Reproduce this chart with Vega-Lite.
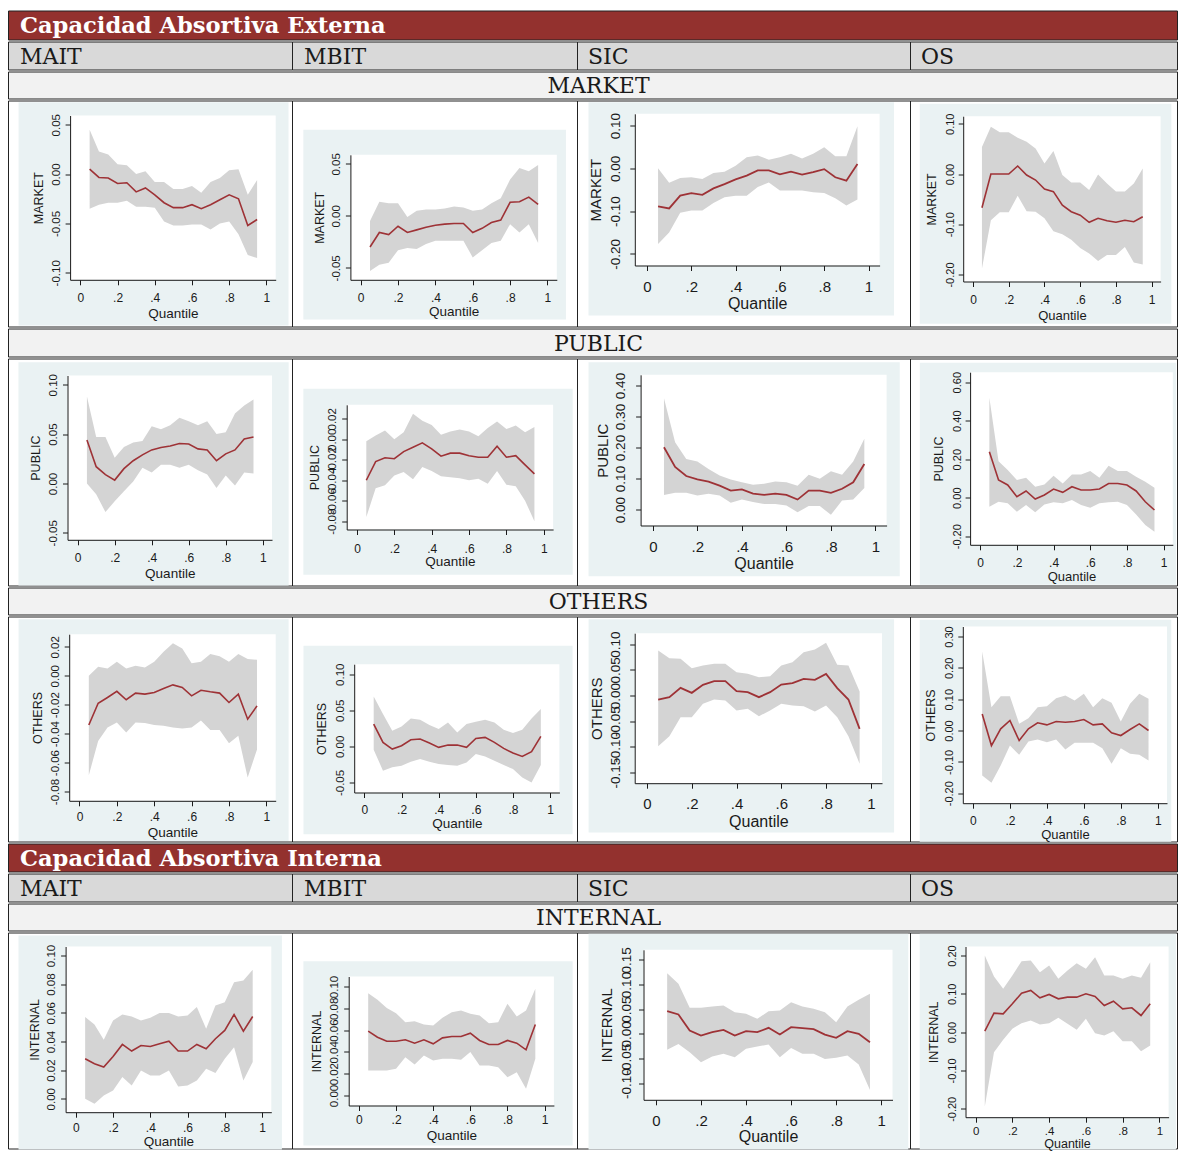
{
"$schema": "https://vega.github.io/schema/vega-lite/v6.json",
"background": "#ffffff",
"padding": {"left": 7, "top": 9.5, "right": 0, "bottom": 0},
"spacing": 0,
"config": {
  "axis": {"domainColor": "#1a1a1a", "domainWidth": 1, "tickColor": "#1a1a1a", "tickWidth": 1, "tickSize": 5, "labelColor": "#1a1a1a", "titleColor": "#1a1a1a", "labelFont": "Liberation Sans", "titleFont": "Liberation Sans", "titleFontWeight": "normal", "grid": false, "labelOverlap": false, "labelFlush": false, "labelBound": false},
  "axisX": {"titleBaseline": "top"},
  "axisY": {"labelAngle": -90, "labelAlign": "center", "labelBaseline": "bottom", "titleAngle": 270, "titleBaseline": "bottom"}
},
"datasets": {
"d11": [{"q":0.05,"b":0.005,"lo":-0.035,"hi":0.045},{"q":0.10,"b":-0.0034,"lo":-0.031,"hi":0.023},{"q":0.15,"b":-0.004,"lo":-0.029,"hi":0.020},{"q":0.20,"b":-0.0095,"lo":-0.029,"hi":0.010},{"q":0.25,"b":-0.0088,"lo":-0.027,"hi":0.009},{"q":0.30,"b":-0.018,"lo":-0.033,"hi":0.0},{"q":0.35,"b":-0.014,"lo":-0.033,"hi":0.003},{"q":0.40,"b":-0.021,"lo":-0.034,"hi":-0.008},{"q":0.45,"b":-0.029,"lo":-0.048,"hi":-0.008},{"q":0.50,"b":-0.034,"lo":-0.052,"hi":-0.015},{"q":0.55,"b":-0.034,"lo":-0.052,"hi":-0.015},{"q":0.60,"b":-0.031,"lo":-0.051,"hi":-0.012},{"q":0.65,"b":-0.035,"lo":-0.051,"hi":-0.019},{"q":0.70,"b":-0.031,"lo":-0.056,"hi":-0.008},{"q":0.75,"b":-0.026,"lo":-0.050,"hi":-0.004},{"q":0.80,"b":-0.021,"lo":-0.048,"hi":0.004},{"q":0.85,"b":-0.025,"lo":-0.061,"hi":0.005},{"q":0.90,"b":-0.052,"lo":-0.082,"hi":-0.021},{"q":0.95,"b":-0.046,"lo":-0.085,"hi":-0.006}],
"d12": [{"q":0.05,"b":-0.030,"lo":-0.053,"hi":-0.005},{"q":0.10,"b":-0.016,"lo":-0.047,"hi":0.0135},{"q":0.15,"b":-0.018,"lo":-0.045,"hi":0.012},{"q":0.20,"b":-0.010,"lo":-0.033,"hi":0.012},{"q":0.25,"b":-0.016,"lo":-0.031,"hi":-0.001},{"q":0.30,"b":-0.0135,"lo":-0.032,"hi":0.005},{"q":0.35,"b":-0.011,"lo":-0.027,"hi":0.006},{"q":0.40,"b":-0.009,"lo":-0.024,"hi":0.006},{"q":0.45,"b":-0.008,"lo":-0.024,"hi":0.007},{"q":0.50,"b":-0.0074,"lo":-0.024,"hi":0.009},{"q":0.55,"b":-0.0074,"lo":-0.024,"hi":0.008},{"q":0.60,"b":-0.016,"lo":-0.040,"hi":0.005},{"q":0.65,"b":-0.012,"lo":-0.033,"hi":0.006},{"q":0.70,"b":-0.0065,"lo":-0.026,"hi":0.012},{"q":0.75,"b":-0.004,"lo":-0.024,"hi":0.017},{"q":0.80,"b":0.013,"lo":-0.008,"hi":0.035},{"q":0.85,"b":0.0135,"lo":-0.016,"hi":0.046},{"q":0.90,"b":0.018,"lo":-0.008,"hi":0.043},{"q":0.95,"b":0.011,"lo":-0.026,"hi":0.049}],
"d13": [{"q":0.05,"b":-0.089,"lo":-0.177,"hi":0.0},{"q":0.10,"b":-0.094,"lo":-0.150,"hi":-0.034},{"q":0.15,"b":-0.064,"lo":-0.104,"hi":-0.023},{"q":0.20,"b":-0.058,"lo":-0.099,"hi":-0.021},{"q":0.25,"b":-0.062,"lo":-0.099,"hi":-0.025},{"q":0.30,"b":-0.047,"lo":-0.081,"hi":-0.011},{"q":0.35,"b":-0.037,"lo":-0.068,"hi":-0.008},{"q":0.40,"b":-0.026,"lo":-0.064,"hi":0.006},{"q":0.45,"b":-0.017,"lo":-0.064,"hi":0.026},{"q":0.50,"b":-0.005,"lo":-0.044,"hi":0.030},{"q":0.55,"b":-0.005,"lo":-0.033,"hi":0.020},{"q":0.60,"b":-0.014,"lo":-0.052,"hi":0.026},{"q":0.65,"b":-0.008,"lo":-0.052,"hi":0.034},{"q":0.70,"b":-0.015,"lo":-0.052,"hi":0.023},{"q":0.75,"b":-0.009,"lo":-0.056,"hi":0.034},{"q":0.80,"b":-0.002,"lo":-0.058,"hi":0.049},{"q":0.85,"b":-0.021,"lo":-0.070,"hi":0.028},{"q":0.90,"b":-0.029,"lo":-0.087,"hi":0.028},{"q":0.95,"b":0.010,"lo":-0.073,"hi":0.098}],
"d14": [{"q":0.05,"b":-0.067,"lo":-0.188,"hi":0.054},{"q":0.10,"b":0.0,"lo":-0.092,"hi":0.094},{"q":0.15,"b":0.0,"lo":-0.076,"hi":0.083},{"q":0.20,"b":0.0,"lo":-0.076,"hi":0.083},{"q":0.25,"b":0.016,"lo":-0.043,"hi":0.072},{"q":0.30,"b":-0.002,"lo":-0.074,"hi":0.064},{"q":0.35,"b":-0.012,"lo":-0.075,"hi":0.051},{"q":0.40,"b":-0.030,"lo":-0.088,"hi":0.021},{"q":0.45,"b":-0.035,"lo":-0.114,"hi":0.046},{"q":0.50,"b":-0.062,"lo":-0.120,"hi":-0.002},{"q":0.55,"b":-0.075,"lo":-0.131,"hi":-0.017},{"q":0.60,"b":-0.082,"lo":-0.147,"hi":-0.017},{"q":0.65,"b":-0.096,"lo":-0.158,"hi":-0.032},{"q":0.70,"b":-0.088,"lo":-0.173,"hi":-0.001},{"q":0.75,"b":-0.093,"lo":-0.161,"hi":-0.019},{"q":0.80,"b":-0.096,"lo":-0.161,"hi":-0.035},{"q":0.85,"b":-0.092,"lo":-0.145,"hi":-0.035},{"q":0.90,"b":-0.095,"lo":-0.176,"hi":-0.019},{"q":0.95,"b":-0.085,"lo":-0.180,"hi":0.011}],
"d21": [{"q":0.05,"b":0.044,"lo":0.0,"hi":0.088},{"q":0.10,"b":0.017,"lo":-0.011,"hi":0.047},{"q":0.15,"b":0.009,"lo":-0.029,"hi":0.047},{"q":0.20,"b":0.0034,"lo":-0.018,"hi":0.026},{"q":0.25,"b":0.015,"lo":-0.008,"hi":0.037},{"q":0.30,"b":0.023,"lo":0.002,"hi":0.0415},{"q":0.35,"b":0.029,"lo":0.016,"hi":0.043},{"q":0.40,"b":0.034,"lo":0.011,"hi":0.058},{"q":0.45,"b":0.0365,"lo":0.019,"hi":0.055},{"q":0.50,"b":0.038,"lo":0.019,"hi":0.059},{"q":0.55,"b":0.0405,"lo":0.016,"hi":0.0666},{"q":0.60,"b":0.040,"lo":0.019,"hi":0.063},{"q":0.65,"b":0.035,"lo":0.0135,"hi":0.059},{"q":0.70,"b":0.034,"lo":0.009,"hi":0.063},{"q":0.75,"b":0.023,"lo":-0.0045,"hi":0.050},{"q":0.80,"b":0.030,"lo":0.008,"hi":0.052},{"q":0.85,"b":0.034,"lo":-0.002,"hi":0.071},{"q":0.90,"b":0.045,"lo":0.011,"hi":0.079},{"q":0.95,"b":0.047,"lo":0.010,"hi":0.085}],
"d22": [{"q":0.05,"b":-0.040,"lo":-0.076,"hi":-0.002},{"q":0.10,"b":-0.0217,"lo":-0.0477,"hi":0.0037},{"q":0.15,"b":-0.018,"lo":-0.045,"hi":0.0086},{"q":0.20,"b":-0.019,"lo":-0.0354,"hi":0.0},{"q":0.25,"b":-0.012,"lo":-0.032,"hi":0.007},{"q":0.30,"b":-0.0077,"lo":-0.039,"hi":0.025},{"q":0.35,"b":-0.0035,"lo":-0.027,"hi":0.018},{"q":0.40,"b":-0.0093,"lo":-0.031,"hi":0.014},{"q":0.45,"b":-0.0165,"lo":-0.036,"hi":0.0044},{"q":0.50,"b":-0.0135,"lo":-0.037,"hi":0.0076},{"q":0.55,"b":-0.0135,"lo":-0.038,"hi":0.0096},{"q":0.60,"b":-0.016,"lo":-0.040,"hi":0.0076},{"q":0.65,"b":-0.0175,"lo":-0.0386,"hi":0.003},{"q":0.70,"b":-0.0175,"lo":-0.0435,"hi":0.011},{"q":0.75,"b":-0.0067,"lo":-0.031,"hi":0.0174},{"q":0.80,"b":-0.0175,"lo":-0.0445,"hi":0.010},{"q":0.85,"b":-0.016,"lo":-0.0458,"hi":0.0135},{"q":0.90,"b":-0.025,"lo":-0.060,"hi":0.007},{"q":0.95,"b":-0.0337,"lo":-0.080,"hi":0.012}],
"d23": [{"q":0.05,"b":0.201,"lo":0.047,"hi":0.359},{"q":0.10,"b":0.137,"lo":0.054,"hi":0.217},{"q":0.15,"b":0.108,"lo":0.054,"hi":0.163},{"q":0.20,"b":0.097,"lo":0.045,"hi":0.155},{"q":0.25,"b":0.090,"lo":0.051,"hi":0.131},{"q":0.30,"b":0.077,"lo":0.045,"hi":0.110},{"q":0.35,"b":0.061,"lo":0.0215,"hi":0.097},{"q":0.40,"b":0.065,"lo":0.032,"hi":0.088},{"q":0.45,"b":0.051,"lo":0.024,"hi":0.080},{"q":0.50,"b":0.047,"lo":0.018,"hi":0.083},{"q":0.55,"b":0.051,"lo":0.018,"hi":0.090},{"q":0.60,"b":0.047,"lo":0.013,"hi":0.088},{"q":0.65,"b":0.032,"lo":-0.009,"hi":0.077},{"q":0.70,"b":0.061,"lo":0.011,"hi":0.112},{"q":0.75,"b":0.061,"lo":0.011,"hi":0.099},{"q":0.80,"b":0.054,"lo":-0.017,"hi":0.123},{"q":0.85,"b":0.067,"lo":0.029,"hi":0.112},{"q":0.90,"b":0.088,"lo":0.032,"hi":0.155},{"q":0.95,"b":0.147,"lo":0.069,"hi":0.228}],
"d24": [{"q":0.05,"b":0.239,"lo":-0.047,"hi":0.519},{"q":0.10,"b":0.092,"lo":-0.021,"hi":0.190},{"q":0.15,"b":0.066,"lo":-0.029,"hi":0.144},{"q":0.20,"b":0.005,"lo":-0.073,"hi":0.092},{"q":0.25,"b":0.035,"lo":-0.038,"hi":0.104},{"q":0.30,"b":-0.007,"lo":-0.076,"hi":0.057},{"q":0.35,"b":0.014,"lo":-0.035,"hi":0.069},{"q":0.40,"b":0.045,"lo":-0.024,"hi":0.114},{"q":0.45,"b":0.028,"lo":-0.029,"hi":0.074},{"q":0.50,"b":0.057,"lo":-0.012,"hi":0.121},{"q":0.55,"b":0.040,"lo":-0.038,"hi":0.121},{"q":0.60,"b":0.040,"lo":-0.052,"hi":0.139},{"q":0.65,"b":0.045,"lo":-0.029,"hi":0.104},{"q":0.70,"b":0.074,"lo":-0.024,"hi":0.166},{"q":0.75,"b":0.074,"lo":-0.021,"hi":0.139},{"q":0.80,"b":0.066,"lo":-0.038,"hi":0.139},{"q":0.85,"b":0.035,"lo":-0.087,"hi":0.109},{"q":0.90,"b":-0.021,"lo":-0.142,"hi":0.083},{"q":0.95,"b":-0.064,"lo":-0.177,"hi":0.052}],
"d31": [{"q":0.05,"b":-0.034,"lo":-0.0687,"hi":0.0},{"q":0.10,"b":-0.019,"lo":-0.045,"hi":0.0062},{"q":0.15,"b":-0.015,"lo":-0.0358,"hi":0.005},{"q":0.20,"b":-0.0108,"lo":-0.0323,"hi":0.0096},{"q":0.25,"b":-0.0166,"lo":-0.0392,"hi":0.005},{"q":0.30,"b":-0.012,"lo":-0.0323,"hi":0.0069},{"q":0.35,"b":-0.0127,"lo":-0.0327,"hi":0.0057},{"q":0.40,"b":-0.0116,"lo":-0.034,"hi":0.0096},{"q":0.45,"b":-0.0088,"lo":-0.0346,"hi":0.0165},{"q":0.50,"b":-0.0063,"lo":-0.0358,"hi":0.0225},{"q":0.55,"b":-0.0081,"lo":-0.0365,"hi":0.0189},{"q":0.60,"b":-0.0139,"lo":-0.0358,"hi":0.0087},{"q":0.65,"b":-0.010,"lo":-0.031,"hi":0.0096},{"q":0.70,"b":-0.0111,"lo":-0.0374,"hi":0.015},{"q":0.75,"b":-0.012,"lo":-0.0374,"hi":0.0134},{"q":0.80,"b":-0.0185,"lo":-0.0466,"hi":0.0096},{"q":0.85,"b":-0.0127,"lo":-0.0415,"hi":0.015},{"q":0.90,"b":-0.030,"lo":-0.0703,"hi":0.0115},{"q":0.95,"b":-0.0208,"lo":-0.051,"hi":0.011}],
"d32": [{"q":0.05,"b":0.031,"lo":-0.0046,"hi":0.069},{"q":0.10,"b":0.0055,"lo":-0.0337,"hi":0.045},{"q":0.15,"b":-0.0037,"lo":-0.029,"hi":0.0217},{"q":0.20,"b":0.0009,"lo":-0.0268,"hi":0.0277},{"q":0.25,"b":0.0092,"lo":-0.0212,"hi":0.0388},{"q":0.30,"b":0.0102,"lo":-0.0175,"hi":0.037},{"q":0.35,"b":0.0046,"lo":-0.0212,"hi":0.0295},{"q":0.40,"b":-0.0014,"lo":-0.0245,"hi":0.024},{"q":0.45,"b":0.0018,"lo":-0.0258,"hi":0.0332},{"q":0.50,"b":0.0018,"lo":-0.0268,"hi":0.0194},{"q":0.55,"b":-0.0014,"lo":-0.0222,"hi":0.0309},{"q":0.60,"b":0.011,"lo":-0.0106,"hi":0.0342},{"q":0.65,"b":0.0125,"lo":-0.0139,"hi":0.037},{"q":0.70,"b":0.0055,"lo":-0.0198,"hi":0.0332},{"q":0.75,"b":-0.0028,"lo":-0.0258,"hi":0.0231},{"q":0.80,"b":-0.0092,"lo":-0.0314,"hi":0.0185},{"q":0.85,"b":-0.0139,"lo":-0.043,"hi":0.0231},{"q":0.90,"b":-0.0074,"lo":-0.0499,"hi":0.0388},{"q":0.95,"b":0.0139,"lo":-0.0258,"hi":0.0517}],
"d33": [{"q":0.05,"b":-0.0078,"lo":-0.0987,"hi":0.0877},{"q":0.10,"b":-0.0032,"lo":-0.0792,"hi":0.0727},{"q":0.15,"b":0.0149,"lo":-0.0422,"hi":0.0714},{"q":0.20,"b":0.0052,"lo":-0.0422,"hi":0.0532},{"q":0.25,"b":0.0208,"lo":-0.0162,"hi":0.0584},{"q":0.30,"b":0.0279,"lo":-0.0078,"hi":0.0617},{"q":0.35,"b":0.0279,"lo":-0.0097,"hi":0.0617},{"q":0.40,"b":0.0084,"lo":-0.0292,"hi":0.0455},{"q":0.45,"b":0.0065,"lo":-0.026,"hi":0.0422},{"q":0.50,"b":-0.0032,"lo":-0.0403,"hi":0.0357},{"q":0.55,"b":0.0065,"lo":-0.0292,"hi":0.0377},{"q":0.60,"b":0.0214,"lo":-0.0162,"hi":0.0584},{"q":0.65,"b":0.024,"lo":-0.0195,"hi":0.0649},{"q":0.70,"b":0.0325,"lo":-0.0208,"hi":0.0844},{"q":0.75,"b":0.0305,"lo":-0.0312,"hi":0.0896},{"q":0.80,"b":0.0422,"lo":-0.0195,"hi":0.1026},{"q":0.85,"b":0.0143,"lo":-0.0422,"hi":0.0597},{"q":0.90,"b":-0.0078,"lo":-0.0792,"hi":0.0584},{"q":0.95,"b":-0.065,"lo":-0.1331,"hi":0.0078}],
"d34": [{"q":0.05,"b":0.053,"lo":-0.1436,"hi":0.252},{"q":0.10,"b":-0.048,"lo":-0.167,"hi":0.0745},{"q":0.15,"b":0.0053,"lo":-0.1117,"hi":0.1096},{"q":0.20,"b":0.032,"lo":-0.0479,"hi":0.1096},{"q":0.25,"b":-0.032,"lo":-0.0777,"hi":0.0213},{"q":0.30,"b":0.0053,"lo":-0.0351,"hi":0.0394},{"q":0.35,"b":0.0245,"lo":-0.0287,"hi":0.0745},{"q":0.40,"b":0.018,"lo":-0.0372,"hi":0.0777},{"q":0.45,"b":0.0287,"lo":-0.0287,"hi":0.1032},{"q":0.50,"b":0.0266,"lo":-0.0606,"hi":0.1117},{"q":0.55,"b":0.0287,"lo":-0.0394,"hi":0.0957},{"q":0.60,"b":0.0351,"lo":-0.0394,"hi":0.117},{"q":0.65,"b":0.018,"lo":-0.0394,"hi":0.0745},{"q":0.70,"b":0.0213,"lo":-0.0564,"hi":0.1032},{"q":0.75,"b":-0.0074,"lo":-0.1064,"hi":0.0883},{"q":0.80,"b":-0.016,"lo":-0.0564,"hi":0.0287},{"q":0.85,"b":0.0032,"lo":-0.0745,"hi":0.0851},{"q":0.90,"b":0.0213,"lo":-0.0777,"hi":0.117},{"q":0.95,"b":0.0,"lo":-0.0957,"hi":0.101}],
"d41": [{"q":0.05,"b":0.0279,"lo":0.0,"hi":0.057},{"q":0.10,"b":0.0244,"lo":-0.0035,"hi":0.0519},{"q":0.15,"b":0.0221,"lo":0.0023,"hi":0.0412},{"q":0.20,"b":0.0295,"lo":0.0058,"hi":0.0547},{"q":0.25,"b":0.0379,"lo":0.0151,"hi":0.0588},{"q":0.30,"b":0.0333,"lo":0.0093,"hi":0.0574},{"q":0.35,"b":0.0372,"lo":0.0198,"hi":0.0547},{"q":0.40,"b":0.0365,"lo":0.0163,"hi":0.0565},{"q":0.45,"b":0.0384,"lo":0.0163,"hi":0.0598},{"q":0.50,"b":0.0402,"lo":0.0198,"hi":0.0598},{"q":0.55,"b":0.0333,"lo":0.0086,"hi":0.0574},{"q":0.60,"b":0.0333,"lo":0.0093,"hi":0.0581},{"q":0.65,"b":0.0379,"lo":0.0128,"hi":0.064},{"q":0.70,"b":0.0349,"lo":0.0209,"hi":0.0488},{"q":0.75,"b":0.0419,"lo":0.0179,"hi":0.0651},{"q":0.80,"b":0.0477,"lo":0.0279,"hi":0.0674},{"q":0.85,"b":0.0588,"lo":0.036,"hi":0.0814},{"q":0.90,"b":0.0472,"lo":0.0128,"hi":0.0826},{"q":0.95,"b":0.0574,"lo":0.0256,"hi":0.090}],
"d42": [{"q":0.05,"b":0.059,"lo":0.0229,"hi":0.0939},{"q":0.10,"b":0.0535,"lo":0.0229,"hi":0.0878},{"q":0.15,"b":0.0498,"lo":0.0229,"hi":0.0804},{"q":0.20,"b":0.0498,"lo":0.0245,"hi":0.0755},{"q":0.25,"b":0.0511,"lo":0.0352,"hi":0.0673},{"q":0.30,"b":0.048,"lo":0.0284,"hi":0.0682},{"q":0.35,"b":0.0511,"lo":0.0367,"hi":0.0651},{"q":0.40,"b":0.0474,"lo":0.0321,"hi":0.0642},{"q":0.45,"b":0.0529,"lo":0.0336,"hi":0.0713},{"q":0.50,"b":0.0541,"lo":0.0336,"hi":0.0765},{"q":0.55,"b":0.0541,"lo":0.0327,"hi":0.078},{"q":0.60,"b":0.0572,"lo":0.0398,"hi":0.0749},{"q":0.65,"b":0.0505,"lo":0.0275,"hi":0.0734},{"q":0.70,"b":0.0468,"lo":0.0275,"hi":0.0664},{"q":0.75,"b":0.0468,"lo":0.026,"hi":0.0673},{"q":0.80,"b":0.0505,"lo":0.0168,"hi":0.0841},{"q":0.85,"b":0.048,"lo":0.0214,"hi":0.0725},{"q":0.90,"b":0.0419,"lo":0.0061,"hi":0.078},{"q":0.95,"b":0.0651,"lo":0.0336,"hi":0.0979}],
"d43": [{"q":0.05,"b":0.0459,"lo":-0.0324,"hi":0.123},{"q":0.10,"b":0.0392,"lo":-0.0203,"hi":0.1014},{"q":0.15,"b":0.0068,"lo":-0.0372,"hi":0.0527},{"q":0.20,"b":-0.0034,"lo":-0.0574,"hi":0.0527},{"q":0.25,"b":0.0034,"lo":-0.0459,"hi":0.0554},{"q":0.30,"b":0.0081,"lo":-0.0405,"hi":0.0574},{"q":0.35,"b":-0.0034,"lo":-0.0473,"hi":0.0439},{"q":0.40,"b":0.0054,"lo":-0.0304,"hi":0.0405},{"q":0.45,"b":0.0034,"lo":-0.0257,"hi":0.0304},{"q":0.50,"b":0.0122,"lo":-0.0216,"hi":0.0459},{"q":0.55,"b":-0.0014,"lo":-0.0473,"hi":0.0473},{"q":0.60,"b":0.0135,"lo":-0.0284,"hi":0.0642},{"q":0.65,"b":0.0115,"lo":-0.0405,"hi":0.0554},{"q":0.70,"b":0.0095,"lo":-0.0405,"hi":0.0507},{"q":0.75,"b":-0.0014,"lo":-0.0507,"hi":0.0439},{"q":0.80,"b":-0.0081,"lo":-0.0486,"hi":0.0236},{"q":0.85,"b":0.0054,"lo":-0.0439,"hi":0.0554},{"q":0.90,"b":0.0,"lo":-0.0622,"hi":0.0689},{"q":0.95,"b":-0.0169,"lo":-0.1135,"hi":0.0811}],
"d44": [{"q":0.05,"b":0.0026,"lo":-0.1939,"hi":0.2},{"q":0.10,"b":0.0496,"lo":-0.0522,"hi":0.1452},{"q":0.15,"b":0.0478,"lo":-0.02,"hi":0.113},{"q":0.20,"b":0.0739,"lo":0.0087,"hi":0.1478},{"q":0.25,"b":0.1017,"lo":0.0235,"hi":0.1852},{"q":0.30,"b":0.1087,"lo":0.0304,"hi":0.187},{"q":0.35,"b":0.0896,"lo":0.02,"hi":0.1565},{"q":0.40,"b":0.0983,"lo":0.0235,"hi":0.1739},{"q":0.45,"b":0.087,"lo":0.0374,"hi":0.1391},{"q":0.50,"b":0.0913,"lo":0.0217,"hi":0.1609},{"q":0.55,"b":0.0913,"lo":0.0061,"hi":0.18},{"q":0.60,"b":0.1,"lo":0.0348,"hi":0.1652},{"q":0.65,"b":0.093,"lo":-0.0026,"hi":0.1957},{"q":0.70,"b":0.0696,"lo":-0.0087,"hi":0.1478},{"q":0.75,"b":0.0809,"lo":0.0026,"hi":0.1478},{"q":0.80,"b":0.0609,"lo":-0.0235,"hi":0.1391},{"q":0.85,"b":0.0635,"lo":-0.0235,"hi":0.1478},{"q":0.90,"b":0.0435,"lo":-0.0496,"hi":0.1417},{"q":0.95,"b":0.0739,"lo":-0.0348,"hi":0.1826}]
},
"vconcat": [
{"width": 1169, "height": 29, "view": {"fill": "#93312E", "stroke": "#222222", "strokeWidth": 1}, "data": {"values": [{"t": "Capacidad Absortiva Externa"}]}, "mark": {"type": "text", "align": "left", "baseline": "middle", "font": "DejaVu Serif", "fontWeight": "bold", "fontSize": 22.6, "color": "#ffffff", "dx": 12, "dy": 1}, "encoding": {"text": {"field": "t", "type": "nominal"}, "x": {"datum": 0, "type": "quantitative", "scale": {"domain": [0, 1]}, "axis": null}}},
{"hconcat": [
 {"width": 284, "height": 28, "view": {"fill": "#D9D9D9", "stroke": "#222222", "strokeWidth": 1}, "data": {"values": [{"t": "MAIT"}]}, "mark": {"type": "text", "align": "left", "baseline": "middle", "font": "DejaVu Serif", "fontSize": 22, "color": "#1a1a1a", "dx": 12, "dy": 1}, "encoding": {"text": {"field": "t", "type": "nominal"}, "x": {"datum": 0, "type": "quantitative", "scale": {"domain": [0, 1]}, "axis": null}}},
 {"width": 285, "height": 28, "view": {"fill": "#D9D9D9", "stroke": "#222222", "strokeWidth": 1}, "data": {"values": [{"t": "MBIT"}]}, "mark": {"type": "text", "align": "left", "baseline": "middle", "font": "DejaVu Serif", "fontSize": 22, "color": "#1a1a1a", "dx": 12, "dy": 1}, "encoding": {"text": {"field": "t", "type": "nominal"}, "x": {"datum": 0, "type": "quantitative", "scale": {"domain": [0, 1]}, "axis": null}}},
 {"width": 333, "height": 28, "view": {"fill": "#D9D9D9", "stroke": "#222222", "strokeWidth": 1}, "data": {"values": [{"t": "SIC"}]}, "mark": {"type": "text", "align": "left", "baseline": "middle", "font": "DejaVu Serif", "fontSize": 22, "color": "#1a1a1a", "dx": 11, "dy": 1}, "encoding": {"text": {"field": "t", "type": "nominal"}, "x": {"datum": 0, "type": "quantitative", "scale": {"domain": [0, 1]}, "axis": null}}},
 {"width": 267, "height": 28, "view": {"fill": "#D9D9D9", "stroke": "#222222", "strokeWidth": 1}, "data": {"values": [{"t": "OS"}]}, "mark": {"type": "text", "align": "left", "baseline": "middle", "font": "DejaVu Serif", "fontSize": 22, "color": "#1a1a1a", "dx": 11, "dy": 1}, "encoding": {"text": {"field": "t", "type": "nominal"}, "x": {"datum": 0, "type": "quantitative", "scale": {"domain": [0, 1]}, "axis": null}}}
], "spacing": 0, "bounds": "flush"},
{"width": 1169, "height": 27, "view": {"fill": "#F2F2F2", "stroke": "#222222", "strokeWidth": 1}, "data": {"values": [{"t": "MARKET"}]}, "mark": {"type": "text", "align": "center", "baseline": "middle", "font": "DejaVu Serif", "fontSize": 22, "color": "#1a1a1a", "dx": 6, "dy": 1}, "encoding": {"text": {"field": "t", "type": "nominal"}}},
{"hconcat": [
 {"width": 284, "height": 226, "view": {"fill": "#ffffff", "stroke": "#222222", "strokeWidth": 1}, "layer": [
  {"data": {"values": [{}]}, "mark": {"type": "rect", "fill": "#EAF2F3"}, "encoding": {"x": {"datum": -0.332, "type": "quantitative"}, "x2": {"datum": 1.119}, "y": {"datum": -0.1534, "type": "quantitative"}, "y2": {"datum": 0.0729}}},
  {"data": {"values": [{}]}, "mark": {"type": "rect", "fill": "#ffffff"}, "encoding": {"x": {"datum": -0.055, "type": "quantitative"}, "x2": {"datum": 1.05}, "y": {"datum": -0.1071, "type": "quantitative"}, "y2": {"datum": 0.0594}}},
  {"data": {"name": "d11"}, "mark": {"type": "area", "color": "#D4D4D4"}, "encoding": {
    "x": {"field": "q", "type": "quantitative", "scale": {"domain": [-0.055, 1.05], "range": [62.1, 267.7], "nice": false, "zero": false}, "axis": {"zindex": 1, "values": [0,0.2,0.4,0.6,0.8,1], "labelExpr": "datum.value == 0 ? '0' : datum.value == 1 ? '1' : '.' + round(datum.value * 10)", "title": "Quantile", "offset": -46.7, "labelFontSize": 12, "titleFontSize": 13.5, "labelPadding": 7.2, "titleY": 26.8}},
    "y": {"field": "lo", "type": "quantitative", "scale": {"domain": [-0.1071, 0.0594], "range": [179.3, 15], "nice": false, "zero": false}, "axis": {"zindex": 1, "values": [-0.1,-0.05,0,0.05], "labelExpr": "(datum.value < 0 ? '-' : '') + format(abs(datum.value), '.2f')", "title": "MARKET", "offset": -62.1, "labelFontSize": 11.5, "titleFontSize": 12.5, "labelPadding": 3.7, "titleX": -24.7}},
    "y2": {"field": "hi"}}},
  {"data": {"name": "d11"}, "mark": {"type": "line", "color": "#9E3236", "strokeWidth": 1.6}, "encoding": {"x": {"field": "q", "type": "quantitative"}, "y": {"field": "b", "type": "quantitative"}}}
 ]},
 {"width": 285, "height": 226, "view": {"fill": "#ffffff", "stroke": "#222222", "strokeWidth": 1}, "layer": [
  {"data": {"values": [{}]}, "mark": {"type": "rect", "fill": "#EAF2F3"}, "encoding": {"x": {"datum": -0.307, "type": "quantitative"}, "x2": {"datum": 1.099}, "y": {"datum": -0.0997, "type": "quantitative"}, "y2": {"datum": 0.0827}}},
  {"data": {"values": [{}]}, "mark": {"type": "rect", "fill": "#ffffff"}, "encoding": {"x": {"datum": -0.055, "type": "quantitative"}, "x2": {"datum": 1.05}, "y": {"datum": -0.0615, "type": "quantitative"}, "y2": {"datum": 0.0587}}},
  {"data": {"name": "d12"}, "mark": {"type": "area", "color": "#D4D4D4"}, "encoding": {
    "x": {"field": "q", "type": "quantitative", "scale": {"domain": [-0.055, 1.05], "range": [58.4, 264.8], "nice": false, "zero": false}, "axis": {"zindex": 1, "values": [0,0.2,0.4,0.6,0.8,1], "labelExpr": "datum.value == 0 ? '0' : datum.value == 1 ? '1' : '.' + round(datum.value * 10)", "title": "Quantile", "offset": -46.7, "labelFontSize": 12, "titleFontSize": 13.5, "labelPadding": 7.2, "titleY": 25.1}},
    "y": {"field": "lo", "type": "quantitative", "scale": {"domain": [-0.0615, 0.0587], "range": [179.3, 54.3], "nice": false, "zero": false}, "axis": {"zindex": 1, "values": [-0.05,0,0.05], "labelExpr": "(datum.value < 0 ? '-' : '') + format(abs(datum.value), '.2f')", "title": "MARKET", "offset": -58.4, "labelFontSize": 11.5, "titleFontSize": 12.5, "labelPadding": 3.8, "titleX": -23.6}},
    "y2": {"field": "hi"}}},
  {"data": {"name": "d12"}, "mark": {"type": "line", "color": "#9E3236", "strokeWidth": 1.6}, "encoding": {"x": {"field": "q", "type": "quantitative"}, "y": {"field": "b", "type": "quantitative"}}}
 ]},
 {"width": 333, "height": 226, "view": {"fill": "#ffffff", "stroke": "#222222", "strokeWidth": 1}, "layer": [
  {"data": {"values": [{}]}, "mark": {"type": "rect", "fill": "#EAF2F3"}, "encoding": {"x": {"datum": -0.264, "type": "quantitative"}, "x2": {"datum": 1.115}, "y": {"datum": -0.3443, "type": "quantitative"}, "y2": {"datum": 0.1545}}},
  {"data": {"values": [{}]}, "mark": {"type": "rect", "fill": "#ffffff"}, "encoding": {"x": {"datum": -0.055, "type": "quantitative"}, "x2": {"datum": 1.05}, "y": {"datum": -0.2274, "type": "quantitative"}, "y2": {"datum": 0.1274}}},
  {"data": {"name": "d13"}, "mark": {"type": "area", "color": "#D4D4D4"}, "encoding": {
    "x": {"field": "q", "type": "quantitative", "scale": {"domain": [-0.055, 1.05], "range": [57.8, 302.6], "nice": false, "zero": false}, "axis": {"zindex": 1, "values": [0,0.2,0.4,0.6,0.8,1], "labelExpr": "datum.value == 0 ? '0' : datum.value == 1 ? '1' : '.' + round(datum.value * 10)", "title": "Quantile", "offset": -61, "labelFontSize": 15, "titleFontSize": 16, "labelPadding": 8.5, "titleY": 30}},
    "y": {"field": "lo", "type": "quantitative", "scale": {"domain": [-0.2274, 0.1274], "range": [165, 13.3], "nice": false, "zero": false}, "axis": {"zindex": 1, "values": [-0.2,-0.1,0,0.1], "labelExpr": "(datum.value < 0 ? '-' : '') + format(abs(datum.value), '.2f')", "title": "MARKET", "offset": -57.8, "labelFontSize": 13.5, "titleFontSize": 15, "labelPadding": 7.3, "titleX": -31.5}},
    "y2": {"field": "hi"}}},
  {"data": {"name": "d13"}, "mark": {"type": "line", "color": "#9E3236", "strokeWidth": 1.8}, "encoding": {"x": {"field": "q", "type": "quantitative"}, "y": {"field": "b", "type": "quantitative"}}}
 ]},
 {"width": 267, "height": 226, "view": {"fill": "#ffffff", "stroke": "#222222", "strokeWidth": 1}, "layer": [
  {"data": {"values": [{}]}, "mark": {"type": "rect", "fill": "#EAF2F3"}, "encoding": {"x": {"datum": -0.298, "type": "quantitative"}, "x2": {"datum": 1.110}, "y": {"datum": -0.2981, "type": "quantitative"}, "y2": {"datum": 0.1398}}},
  {"data": {"values": [{}]}, "mark": {"type": "rect", "fill": "#ffffff"}, "encoding": {"x": {"datum": -0.055, "type": "quantitative"}, "x2": {"datum": 1.05}, "y": {"datum": -0.2139, "type": "quantitative"}, "y2": {"datum": 0.1151}}},
  {"data": {"name": "d14"}, "mark": {"type": "area", "color": "#D4D4D4"}, "encoding": {
    "x": {"field": "q", "type": "quantitative", "scale": {"domain": [-0.055, 1.05], "range": [53.2, 250.6], "nice": false, "zero": false}, "axis": {"zindex": 1, "values": [0,0.2,0.4,0.6,0.8,1], "labelExpr": "datum.value == 0 ? '0' : datum.value == 1 ? '1' : '.' + round(datum.value * 10)", "title": "Quantile", "offset": -45, "labelFontSize": 12, "titleFontSize": 13, "labelPadding": 7.8, "titleY": 28.1}},
    "y": {"field": "lo", "type": "quantitative", "scale": {"domain": [-0.2139, 0.1151], "range": [181, 15.7], "nice": false, "zero": false}, "axis": {"zindex": 1, "values": [-0.2,-0.1,0,0.1], "labelExpr": "(datum.value < 0 ? '-' : '') + format(abs(datum.value), '.2f')", "title": "MARKET", "offset": -53.2, "labelFontSize": 11, "titleFontSize": 12.5, "labelPadding": 3, "titleX": -25}},
    "y2": {"field": "hi"}}},
  {"data": {"name": "d14"}, "mark": {"type": "line", "color": "#9E3236", "strokeWidth": 1.6}, "encoding": {"x": {"field": "q", "type": "quantitative"}, "y": {"field": "b", "type": "quantitative"}}}
 ]}
], "spacing": 0, "bounds": "flush"},
{"width": 1169, "height": 28, "view": {"fill": "#F2F2F2", "stroke": "#222222", "strokeWidth": 1}, "data": {"values": [{"t": "PUBLIC"}]}, "mark": {"type": "text", "align": "center", "baseline": "middle", "font": "DejaVu Serif", "fontSize": 22, "color": "#1a1a1a", "dx": 6, "dy": 1}, "encoding": {"text": {"field": "t", "type": "nominal"}}},
{"hconcat": [
 {"width": 284, "height": 227, "view": {"fill": "#ffffff", "stroke": "#222222", "strokeWidth": 1}, "layer": [
  {"data": {"values": [{}]}, "mark": {"type": "rect", "fill": "#EAF2F3"}, "encoding": {"x": {"datum": -0.32, "type": "quantitative"}, "x2": {"datum": 1.14}, "y": {"datum": -0.1034, "type": "quantitative"}, "y2": {"datum": 0.1229}}},
  {"data": {"values": [{}]}, "mark": {"type": "rect", "fill": "#ffffff"}, "encoding": {"x": {"datum": -0.055, "type": "quantitative"}, "x2": {"datum": 1.05}, "y": {"datum": -0.0571, "type": "quantitative"}, "y2": {"datum": 0.1094}}},
  {"data": {"name": "d21"}, "mark": {"type": "area", "color": "#D4D4D4"}, "encoding": {
    "x": {"field": "q", "type": "quantitative", "scale": {"domain": [-0.055, 1.05], "range": [59.5, 264], "nice": false, "zero": false}, "axis": {"zindex": 1, "values": [0,0.2,0.4,0.6,0.8,1], "labelExpr": "datum.value == 0 ? '0' : datum.value == 1 ? '1' : '.' + round(datum.value * 10)", "title": "Quantile", "offset": -45.7, "labelFontSize": 12, "titleFontSize": 13.5, "labelPadding": 7.2, "titleY": 26.8}},
    "y": {"field": "lo", "type": "quantitative", "scale": {"domain": [-0.0571, 0.1094], "range": [181.3, 17], "nice": false, "zero": false}, "axis": {"zindex": 1, "values": [-0.05,0,0.05,0.1], "labelExpr": "(datum.value < 0 ? '-' : '') + format(abs(datum.value), '.2f')", "title": "PUBLIC", "offset": -59.5, "labelFontSize": 11.5, "titleFontSize": 12.5, "labelPadding": 3.7, "titleX": -24.7}},
    "y2": {"field": "hi"}}},
  {"data": {"name": "d21"}, "mark": {"type": "line", "color": "#9E3236", "strokeWidth": 1.6}, "encoding": {"x": {"field": "q", "type": "quantitative"}, "y": {"field": "b", "type": "quantitative"}}}
 ]},
 {"width": 285, "height": 227, "view": {"fill": "#ffffff", "stroke": "#222222", "strokeWidth": 1}, "layer": [
  {"data": {"values": [{}]}, "mark": {"type": "rect", "fill": "#EAF2F3"}, "encoding": {"x": {"datum": -0.287, "type": "quantitative"}, "x2": {"datum": 1.155}, "y": {"datum": -0.1323, "type": "quantitative"}, "y2": {"datum": 0.0493}}},
  {"data": {"values": [{}]}, "mark": {"type": "rect", "fill": "#ffffff"}, "encoding": {"x": {"datum": -0.055, "type": "quantitative"}, "x2": {"datum": 1.05}, "y": {"datum": -0.0881, "type": "quantitative"}, "y2": {"datum": 0.0337}}},
  {"data": {"name": "d22"}, "mark": {"type": "area", "color": "#D4D4D4"}, "encoding": {
    "x": {"field": "q", "type": "quantitative", "scale": {"domain": [-0.055, 1.05], "range": [54.7, 261.1], "nice": false, "zero": false}, "axis": {"zindex": 1, "values": [0,0.2,0.4,0.6,0.8,1], "labelExpr": "datum.value == 0 ? '0' : datum.value == 1 ? '1' : '.' + round(datum.value * 10)", "title": "Quantile", "offset": -56, "labelFontSize": 12, "titleFontSize": 13.5, "labelPadding": 8.5, "titleY": 25.4}},
    "y": {"field": "lo", "type": "quantitative", "scale": {"domain": [-0.0881, 0.0337], "range": [171, 46.3], "nice": false, "zero": false}, "axis": {"zindex": 1, "values": [-0.08,-0.06,-0.04,-0.02,0,0.02], "labelExpr": "(datum.value < 0 ? '-' : '') + format(abs(datum.value), '.2f')", "title": "PUBLIC", "offset": -54.7, "labelFontSize": 11.5, "titleFontSize": 12.5, "labelPadding": 3.9, "titleX": -25.4}},
    "y2": {"field": "hi"}}},
  {"data": {"name": "d22"}, "mark": {"type": "line", "color": "#9E3236", "strokeWidth": 1.6}, "encoding": {"x": {"field": "q", "type": "quantitative"}, "y": {"field": "b", "type": "quantitative"}}}
 ]},
 {"width": 333, "height": 227, "view": {"fill": "#ffffff", "stroke": "#222222", "strokeWidth": 1}, "layer": [
  {"data": {"values": [{}]}, "mark": {"type": "rect", "fill": "#EAF2F3"}, "encoding": {"x": {"datum": -0.289, "type": "quantitative"}, "x2": {"datum": 1.109}, "y": {"datum": -0.2152, "type": "quantitative"}, "y2": {"datum": 0.4752}}},
  {"data": {"values": [{}]}, "mark": {"type": "rect", "fill": "#ffffff"}, "encoding": {"x": {"datum": -0.055, "type": "quantitative"}, "x2": {"datum": 1.05}, "y": {"datum": -0.0516, "type": "quantitative"}, "y2": {"datum": 0.4345}}},
  {"data": {"name": "d23"}, "mark": {"type": "area", "color": "#D4D4D4"}, "encoding": {
    "x": {"field": "q", "type": "quantitative", "scale": {"domain": [-0.055, 1.05], "range": [63.6, 309.6], "nice": false, "zero": false}, "axis": {"zindex": 1, "values": [0,0.2,0.4,0.6,0.8,1], "labelExpr": "datum.value == 0 ? '0' : datum.value == 1 ? '1' : '.' + round(datum.value * 10)", "title": "Quantile", "offset": -60, "labelFontSize": 15, "titleFontSize": 16, "labelPadding": 8.5, "titleY": 30}},
    "y": {"field": "lo", "type": "quantitative", "scale": {"domain": [-0.0516, 0.4345], "range": [167, 16.3], "nice": false, "zero": false}, "axis": {"zindex": 1, "values": [0,0.1,0.2,0.3,0.4], "labelExpr": "(datum.value < 0 ? '-' : '') + format(abs(datum.value), '.2f')", "title": "PUBLIC", "offset": -63.6, "labelFontSize": 13.5, "titleFontSize": 15, "labelPadding": 8, "titleX": -30.5}},
    "y2": {"field": "hi"}}},
  {"data": {"name": "d23"}, "mark": {"type": "line", "color": "#9E3236", "strokeWidth": 1.8}, "encoding": {"x": {"field": "q", "type": "quantitative"}, "y": {"field": "b", "type": "quantitative"}}}
 ]},
 {"width": 267, "height": 227, "view": {"fill": "#ffffff", "stroke": "#222222", "strokeWidth": 1}, "layer": [
  {"data": {"values": [{}]}, "mark": {"type": "rect", "fill": "#EAF2F3"}, "encoding": {"x": {"datum": -0.329, "type": "quantitative"}, "x2": {"datum": 1.068}, "y": {"datum": -0.4525, "type": "quantitative"}, "y2": {"datum": 0.7008}}},
  {"data": {"values": [{}]}, "mark": {"type": "rect", "fill": "#ffffff"}, "encoding": {"x": {"datum": -0.055, "type": "quantitative"}, "x2": {"datum": 1.05}, "y": {"datum": -0.2447, "type": "quantitative"}, "y2": {"datum": 0.652}}},
  {"data": {"name": "d24"}, "mark": {"type": "area", "color": "#D4D4D4"}, "encoding": {
    "x": {"field": "q", "type": "quantitative", "scale": {"domain": [-0.055, 1.05], "range": [60.1, 262.8], "nice": false, "zero": false}, "axis": {"zindex": 1, "values": [0,0.2,0.4,0.6,0.8,1], "labelExpr": "datum.value == 0 ? '0' : datum.value == 1 ? '1' : '.' + round(datum.value * 10)", "title": "Quantile", "offset": -40.7, "labelFontSize": 12, "titleFontSize": 13, "labelPadding": 7.2, "titleY": 25.5}},
    "y": {"field": "lo", "type": "quantitative", "scale": {"domain": [-0.2447, 0.652], "range": [186.3, 13.7], "nice": false, "zero": false}, "axis": {"zindex": 1, "values": [-0.2,0,0.2,0.4,0.6], "labelExpr": "(datum.value < 0 ? '-' : '') + format(abs(datum.value), '.2f')", "title": "PUBLIC", "offset": -60.1, "labelFontSize": 11, "titleFontSize": 12.5, "labelPadding": 3, "titleX": -25}},
    "y2": {"field": "hi"}}},
  {"data": {"name": "d24"}, "mark": {"type": "line", "color": "#9E3236", "strokeWidth": 1.6}, "encoding": {"x": {"field": "q", "type": "quantitative"}, "y": {"field": "b", "type": "quantitative"}}}
 ]}
], "spacing": 0, "bounds": "flush"},
{"width": 1169, "height": 27, "view": {"fill": "#F2F2F2", "stroke": "#222222", "strokeWidth": 1}, "data": {"values": [{"t": "OTHERS"}]}, "mark": {"type": "text", "align": "center", "baseline": "middle", "font": "DejaVu Serif", "fontSize": 22, "color": "#1a1a1a", "dx": 6, "dy": 1}, "encoding": {"text": {"field": "t", "type": "nominal"}}},
{"hconcat": [
 {"width": 284, "height": 225, "view": {"fill": "#ffffff", "stroke": "#222222", "strokeWidth": 1}, "layer": [
  {"data": {"values": [{}]}, "mark": {"type": "rect", "fill": "#EAF2F3"}, "encoding": {"x": {"datum": -0.326, "type": "quantitative"}, "x2": {"datum": 1.119}, "y": {"datum": -0.1141, "type": "quantitative"}, "y2": {"datum": 0.0391}}},
  {"data": {"values": [{}]}, "mark": {"type": "rect", "fill": "#ffffff"}, "encoding": {"x": {"datum": -0.055, "type": "quantitative"}, "x2": {"datum": 1.05}, "y": {"datum": -0.0864, "type": "quantitative"}, "y2": {"datum": 0.0287}}},
  {"data": {"name": "d31"}, "mark": {"type": "area", "color": "#D4D4D4"}, "encoding": {
    "x": {"field": "q", "type": "quantitative", "scale": {"domain": [-0.055, 1.05], "range": [61.2, 267.7], "nice": false, "zero": false}, "axis": {"zindex": 1, "values": [0,0.2,0.4,0.6,0.8,1], "labelExpr": "datum.value == 0 ? '0' : datum.value == 1 ? '1' : '.' + round(datum.value * 10)", "title": "Quantile", "offset": -40.7, "labelFontSize": 12, "titleFontSize": 13.5, "labelPadding": 5.5, "titleY": 24.4}},
    "y": {"field": "lo", "type": "quantitative", "scale": {"domain": [-0.0864, 0.0287], "range": [184.3, 17.7], "nice": false, "zero": false}, "axis": {"zindex": 1, "values": [-0.08,-0.06,-0.04,-0.02,0,0.02], "labelExpr": "(datum.value < 0 ? '-' : '') + format(abs(datum.value), '.2f')", "title": "OTHERS", "offset": -61.2, "labelFontSize": 11.5, "titleFontSize": 12.5, "labelPadding": 3.7, "titleX": -24.7}},
    "y2": {"field": "hi"}}},
  {"data": {"name": "d31"}, "mark": {"type": "line", "color": "#9E3236", "strokeWidth": 1.6}, "encoding": {"x": {"field": "q", "type": "quantitative"}, "y": {"field": "b", "type": "quantitative"}}}
 ]},
 {"width": 285, "height": 225, "view": {"fill": "#ffffff", "stroke": "#222222", "strokeWidth": 1}, "layer": [
  {"data": {"values": [{}]}, "mark": {"type": "rect", "fill": "#EAF2F3"}, "encoding": {"x": {"datum": -0.328, "type": "quantitative"}, "x2": {"datum": 1.121}, "y": {"datum": -0.1216, "type": "quantitative"}, "y2": {"datum": 0.1393}}},
  {"data": {"values": [{}]}, "mark": {"type": "rect", "fill": "#ffffff"}, "encoding": {"x": {"datum": -0.055, "type": "quantitative"}, "x2": {"datum": 1.05}, "y": {"datum": -0.0639, "type": "quantitative"}, "y2": {"datum": 0.1139}}},
  {"data": {"name": "d32"}, "mark": {"type": "area", "color": "#D4D4D4"}, "encoding": {
    "x": {"field": "q", "type": "quantitative", "scale": {"domain": [-0.055, 1.05], "range": [62.2, 267.4], "nice": false, "zero": false}, "axis": {"zindex": 1, "values": [0,0.2,0.4,0.6,0.8,1], "labelExpr": "datum.value == 0 ? '0' : datum.value == 1 ? '1' : '.' + round(datum.value * 10)", "title": "Quantile", "offset": -49, "labelFontSize": 12, "titleFontSize": 13.5, "labelPadding": 6.5, "titleY": 23.7}},
    "y": {"field": "lo", "type": "quantitative", "scale": {"domain": [-0.0639, 0.1139], "range": [176, 47.7], "nice": false, "zero": false}, "axis": {"zindex": 1, "values": [-0.05,0,0.05,0.1], "labelExpr": "(datum.value < 0 ? '-' : '') + format(abs(datum.value), '.2f')", "title": "OTHERS", "offset": -62.2, "labelFontSize": 11.5, "titleFontSize": 12.5, "labelPadding": 3.9, "titleX": -25.4}},
    "y2": {"field": "hi"}}},
  {"data": {"name": "d32"}, "mark": {"type": "line", "color": "#9E3236", "strokeWidth": 1.6}, "encoding": {"x": {"field": "q", "type": "quantitative"}, "y": {"field": "b", "type": "quantitative"}}}
 ]},
 {"width": 333, "height": 225, "view": {"fill": "#ffffff", "stroke": "#222222", "strokeWidth": 1}, "layer": [
  {"data": {"values": [{}]}, "mark": {"type": "rect", "fill": "#EAF2F3"}, "encoding": {"x": {"datum": -0.261, "type": "quantitative"}, "x2": {"datum": 1.104}, "y": {"datum": -0.2669, "type": "quantitative"}, "y2": {"datum": 0.1487}}},
  {"data": {"values": [{}]}, "mark": {"type": "rect", "fill": "#ffffff"}, "encoding": {"x": {"datum": -0.055, "type": "quantitative"}, "x2": {"datum": 1.05}, "y": {"datum": -0.1708, "type": "quantitative"}, "y2": {"datum": 0.1214}}},
  {"data": {"name": "d33"}, "mark": {"type": "area", "color": "#D4D4D4"}, "encoding": {
    "x": {"field": "q", "type": "quantitative", "scale": {"domain": [-0.055, 1.05], "range": [57.7, 305], "nice": false, "zero": false}, "axis": {"zindex": 1, "values": [0,0.2,0.4,0.6,0.8,1], "labelExpr": "datum.value == 0 ? '0' : datum.value == 1 ? '1' : '.' + round(datum.value * 10)", "title": "Quantile", "offset": -58.3, "labelFontSize": 15, "titleFontSize": 16, "labelPadding": 8.5, "titleY": 30}},
    "y": {"field": "lo", "type": "quantitative", "scale": {"domain": [-0.1708, 0.1214], "range": [166.7, 16.7], "nice": false, "zero": false}, "axis": {"zindex": 1, "values": [-0.15,-0.1,-0.05,0,0.05,0.1], "labelExpr": "(datum.value < 0 ? '-' : '') + format(abs(datum.value), '.2f')", "title": "OTHERS", "offset": -57.7, "labelFontSize": 13.5, "titleFontSize": 15, "labelPadding": 7, "titleX": -30.5}},
    "y2": {"field": "hi"}}},
  {"data": {"name": "d33"}, "mark": {"type": "line", "color": "#9E3236", "strokeWidth": 1.8}, "encoding": {"x": {"field": "q", "type": "quantitative"}, "y": {"field": "b", "type": "quantitative"}}}
 ]},
 {"width": 267, "height": 225, "view": {"fill": "#ffffff", "stroke": "#222222", "strokeWidth": 1}, "layer": [
  {"data": {"values": [{}]}, "mark": {"type": "rect", "fill": "#EAF2F3"}, "encoding": {"x": {"datum": -0.288, "type": "quantitative"}, "x2": {"datum": 1.073}, "y": {"datum": -0.3551, "type": "quantitative"}, "y2": {"datum": 0.3533}}},
  {"data": {"values": [{}]}, "mark": {"type": "rect", "fill": "#ffffff"}, "encoding": {"x": {"datum": -0.055, "type": "quantitative"}, "x2": {"datum": 1.05}, "y": {"datum": -0.2319, "type": "quantitative"}, "y2": {"datum": 0.3319}}},
  {"data": {"name": "d34"}, "mark": {"type": "area", "color": "#D4D4D4"}, "encoding": {
    "x": {"field": "q", "type": "quantitative", "scale": {"domain": [-0.055, 1.05], "range": [52.8, 257], "nice": false, "zero": false}, "axis": {"zindex": 1, "values": [0,0.2,0.4,0.6,0.8,1], "labelExpr": "datum.value == 0 ? '0' : datum.value == 1 ? '1' : '.' + round(datum.value * 10)", "title": "Quantile", "offset": -38.3, "labelFontSize": 12, "titleFontSize": 13, "labelPadding": 7.4, "titleY": 24.8}},
    "y": {"field": "lo", "type": "quantitative", "scale": {"domain": [-0.2319, 0.3319], "range": [186.7, 10], "nice": false, "zero": false}, "axis": {"zindex": 1, "values": [-0.2,-0.1,0,0.1,0.2,0.3], "labelExpr": "(datum.value < 0 ? '-' : '') + format(abs(datum.value), '.2f')", "title": "OTHERS", "offset": -52.8, "labelFontSize": 11, "titleFontSize": 12.5, "labelPadding": 3, "titleX": -25}},
    "y2": {"field": "hi"}}},
  {"data": {"name": "d34"}, "mark": {"type": "line", "color": "#9E3236", "strokeWidth": 1.6}, "encoding": {"x": {"field": "q", "type": "quantitative"}, "y": {"field": "b", "type": "quantitative"}}}
 ]}
], "spacing": 0, "bounds": "flush"},
{"width": 1169, "height": 28, "view": {"fill": "#93312E", "stroke": "#222222", "strokeWidth": 1}, "data": {"values": [{"t": "Capacidad Absortiva Interna"}]}, "mark": {"type": "text", "align": "left", "baseline": "middle", "font": "DejaVu Serif", "fontWeight": "bold", "fontSize": 22.6, "color": "#ffffff", "dx": 12, "dy": 1}, "encoding": {"text": {"field": "t", "type": "nominal"}, "x": {"datum": 0, "type": "quantitative", "scale": {"domain": [0, 1]}, "axis": null}}},
{"hconcat": [
 {"width": 284, "height": 28, "view": {"fill": "#D9D9D9", "stroke": "#222222", "strokeWidth": 1}, "data": {"values": [{"t": "MAIT"}]}, "mark": {"type": "text", "align": "left", "baseline": "middle", "font": "DejaVu Serif", "fontSize": 22, "color": "#1a1a1a", "dx": 12, "dy": 1}, "encoding": {"text": {"field": "t", "type": "nominal"}, "x": {"datum": 0, "type": "quantitative", "scale": {"domain": [0, 1]}, "axis": null}}},
 {"width": 285, "height": 28, "view": {"fill": "#D9D9D9", "stroke": "#222222", "strokeWidth": 1}, "data": {"values": [{"t": "MBIT"}]}, "mark": {"type": "text", "align": "left", "baseline": "middle", "font": "DejaVu Serif", "fontSize": 22, "color": "#1a1a1a", "dx": 12, "dy": 1}, "encoding": {"text": {"field": "t", "type": "nominal"}, "x": {"datum": 0, "type": "quantitative", "scale": {"domain": [0, 1]}, "axis": null}}},
 {"width": 333, "height": 28, "view": {"fill": "#D9D9D9", "stroke": "#222222", "strokeWidth": 1}, "data": {"values": [{"t": "SIC"}]}, "mark": {"type": "text", "align": "left", "baseline": "middle", "font": "DejaVu Serif", "fontSize": 22, "color": "#1a1a1a", "dx": 11, "dy": 1}, "encoding": {"text": {"field": "t", "type": "nominal"}, "x": {"datum": 0, "type": "quantitative", "scale": {"domain": [0, 1]}, "axis": null}}},
 {"width": 267, "height": 28, "view": {"fill": "#D9D9D9", "stroke": "#222222", "strokeWidth": 1}, "data": {"values": [{"t": "OS"}]}, "mark": {"type": "text", "align": "left", "baseline": "middle", "font": "DejaVu Serif", "fontSize": 22, "color": "#1a1a1a", "dx": 11, "dy": 1}, "encoding": {"text": {"field": "t", "type": "nominal"}, "x": {"datum": 0, "type": "quantitative", "scale": {"domain": [0, 1]}, "axis": null}}}
], "spacing": 0, "bounds": "flush"},
{"width": 1169, "height": 27, "view": {"fill": "#F2F2F2", "stroke": "#222222", "strokeWidth": 1}, "data": {"values": [{"t": "INTERNAL"}]}, "mark": {"type": "text", "align": "center", "baseline": "middle", "font": "DejaVu Serif", "fontSize": 22, "color": "#1a1a1a", "dx": 6, "dy": 1}, "encoding": {"text": {"field": "t", "type": "nominal"}}},
{"hconcat": [
 {"width": 284, "height": 216, "view": {"fill": "#ffffff", "stroke": "#222222", "strokeWidth": 1}, "layer": [
  {"data": {"values": [{}]}, "mark": {"type": "rect", "fill": "#EAF2F3"}, "encoding": {"x": {"datum": -0.308, "type": "quantitative"}, "x2": {"datum": 1.107}, "y": {"datum": -0.0354, "type": "quantitative"}, "y2": {"datum": 0.114}}},
  {"data": {"values": [{}]}, "mark": {"type": "rect", "fill": "#ffffff"}, "encoding": {"x": {"datum": -0.055, "type": "quantitative"}, "x2": {"datum": 1.05}, "y": {"datum": -0.0094, "type": "quantitative"}, "y2": {"datum": 0.1063}}},
  {"data": {"name": "d41"}, "mark": {"type": "area", "color": "#D4D4D4"}, "encoding": {
    "x": {"field": "q", "type": "quantitative", "scale": {"domain": [-0.055, 1.05], "range": [57.6, 263.3], "nice": false, "zero": false}, "axis": {"zindex": 1, "values": [0,0.2,0.4,0.6,0.8,1], "labelExpr": "datum.value == 0 ? '0' : datum.value == 1 ? '1' : '.' + round(datum.value * 10)", "title": "Quantile", "offset": -36.3, "labelFontSize": 12, "titleFontSize": 13.5, "labelPadding": 5.4, "titleY": 22.5}},
    "y": {"field": "lo", "type": "quantitative", "scale": {"domain": [-0.0094, 0.1063], "range": [179.7, 14], "nice": false, "zero": false}, "axis": {"zindex": 1, "values": [0,0.02,0.04,0.06,0.08,0.1], "labelExpr": "(datum.value < 0 ? '-' : '') + format(abs(datum.value), '.2f')", "title": "INTERNAL", "offset": -57.6, "labelFontSize": 11.5, "titleFontSize": 12.5, "labelPadding": 3.8, "titleX": -23.8}},
    "y2": {"field": "hi"}}},
  {"data": {"name": "d41"}, "mark": {"type": "line", "color": "#9E3236", "strokeWidth": 1.6}, "encoding": {"x": {"field": "q", "type": "quantitative"}, "y": {"field": "b", "type": "quantitative"}}}
 ]},
 {"width": 285, "height": 216, "view": {"fill": "#ffffff", "stroke": "#222222", "strokeWidth": 1}, "layer": [
  {"data": {"values": [{}]}, "mark": {"type": "rect", "fill": "#EAF2F3"}, "encoding": {"x": {"datum": -0.299, "type": "quantitative"}, "x2": {"datum": 1.151}, "y": {"datum": -0.0459, "type": "quantitative"}, "y2": {"datum": 0.1232}}},
  {"data": {"values": [{}]}, "mark": {"type": "rect", "fill": "#ffffff"}, "encoding": {"x": {"datum": -0.055, "type": "quantitative"}, "x2": {"datum": 1.05}, "y": {"datum": -0.0092, "type": "quantitative"}, "y2": {"datum": 0.1092}}},
  {"data": {"name": "d42"}, "mark": {"type": "area", "color": "#D4D4D4"}, "encoding": {
    "x": {"field": "q", "type": "quantitative", "scale": {"domain": [-0.055, 1.05], "range": [56.7, 261.9], "nice": false, "zero": false}, "axis": {"zindex": 1, "values": [0,0.2,0.4,0.6,0.8,1], "labelExpr": "datum.value == 0 ? '0' : datum.value == 1 ? '1' : '.' + round(datum.value * 10)", "title": "Quantile", "offset": -43, "labelFontSize": 12, "titleFontSize": 13.5, "labelPadding": 4.1, "titleY": 23}},
    "y": {"field": "lo", "type": "quantitative", "scale": {"domain": [-0.0092, 0.1092], "range": [173, 44], "nice": false, "zero": false}, "axis": {"zindex": 1, "values": [0,0.02,0.04,0.06,0.08,0.1], "labelExpr": "(datum.value < 0 ? '-' : '') + format(abs(datum.value), '.2f')", "title": "INTERNAL", "offset": -56.7, "labelFontSize": 11.5, "titleFontSize": 12.5, "labelPadding": 4.7, "titleX": -25.6}},
    "y2": {"field": "hi"}}},
  {"data": {"name": "d42"}, "mark": {"type": "line", "color": "#9E3236", "strokeWidth": 1.6}, "encoding": {"x": {"field": "q", "type": "quantitative"}, "y": {"field": "b", "type": "quantitative"}}}
 ]},
 {"width": 333, "height": 216, "view": {"fill": "#ffffff", "stroke": "#222222", "strokeWidth": 1}, "layer": [
  {"data": {"values": [{}]}, "mark": {"type": "rect", "fill": "#EAF2F3"}, "encoding": {"x": {"datum": -0.299, "type": "quantitative"}, "x2": {"datum": 1.12}, "y": {"datum": -0.2343, "type": "quantitative"}, "y2": {"datum": 0.2027}}},
  {"data": {"values": [{}]}, "mark": {"type": "rect", "fill": "#ffffff"}, "encoding": {"x": {"datum": -0.055, "type": "quantitative"}, "x2": {"datum": 1.05}, "y": {"datum": -0.1336, "type": "quantitative"}, "y2": {"datum": 0.1703}}},
  {"data": {"name": "d43"}, "mark": {"type": "area", "color": "#D4D4D4"}, "encoding": {
    "x": {"field": "q", "type": "quantitative", "scale": {"domain": [-0.055, 1.05], "range": [66.5, 315.5], "nice": false, "zero": false}, "axis": {"zindex": 1, "values": [0,0.2,0.4,0.6,0.8,1], "labelExpr": "datum.value == 0 ? '0' : datum.value == 1 ? '1' : '.' + round(datum.value * 10)", "title": "Quantile", "offset": -48.7, "labelFontSize": 15, "titleFontSize": 16, "labelPadding": 8.5, "titleY": 29}},
    "y": {"field": "lo", "type": "quantitative", "scale": {"domain": [-0.1336, 0.1703], "range": [167.3, 17.3], "nice": false, "zero": false}, "axis": {"zindex": 1, "values": [-0.1,-0.05,0,0.05,0.1,0.15], "labelExpr": "(datum.value < 0 ? '-' : '') + format(abs(datum.value), '.2f')", "title": "INTERNAL", "offset": -66.5, "labelFontSize": 13.5, "titleFontSize": 15, "labelPadding": 5, "titleX": -29.5}},
    "y2": {"field": "hi"}}},
  {"data": {"name": "d43"}, "mark": {"type": "line", "color": "#9E3236", "strokeWidth": 1.8}, "encoding": {"x": {"field": "q", "type": "quantitative"}, "y": {"field": "b", "type": "quantitative"}}}
 ]},
 {"width": 267, "height": 216, "view": {"fill": "#ffffff", "stroke": "#222222", "strokeWidth": 1}, "layer": [
  {"data": {"values": [{}]}, "mark": {"type": "rect", "fill": "#EAF2F3"}, "encoding": {"x": {"datum": -0.304, "type": "quantitative"}, "x2": {"datum": 1.09}, "y": {"datum": -0.3062, "type": "quantitative"}, "y2": {"datum": 0.2566}}},
  {"data": {"values": [{}]}, "mark": {"type": "rect", "fill": "#ffffff"}, "encoding": {"x": {"datum": -0.055, "type": "quantitative"}, "x2": {"datum": 1.05}, "y": {"datum": -0.2219, "type": "quantitative"}, "y2": {"datum": 0.2235}}},
  {"data": {"name": "d44"}, "mark": {"type": "area", "color": "#D4D4D4"}, "encoding": {
    "x": {"field": "q", "type": "quantitative", "scale": {"domain": [-0.055, 1.05], "range": [55.5, 258.6], "nice": false, "zero": false}, "axis": {"zindex": 1, "values": [0,0.2,0.4,0.6,0.8,1], "labelExpr": "datum.value == 0 ? '0' : datum.value == 1 ? '1' : '.' + round(datum.value * 10)", "title": "Quantile", "offset": -31.3, "labelFontSize": 11.5, "titleFontSize": 12.5, "labelPadding": 3, "titleY": 20.5}},
    "y": {"field": "lo", "type": "quantitative", "scale": {"domain": [-0.2219, 0.2235], "range": [184.7, 14], "nice": false, "zero": false}, "axis": {"zindex": 1, "values": [-0.2,-0.1,0,0.1,0.2], "labelExpr": "(datum.value < 0 ? '-' : '') + format(abs(datum.value), '.2f')", "title": "INTERNAL", "offset": -55.5, "labelFontSize": 11, "titleFontSize": 12.5, "labelPadding": 3, "titleX": -25}},
    "y2": {"field": "hi"}}},
  {"data": {"name": "d44"}, "mark": {"type": "line", "color": "#9E3236", "strokeWidth": 1.6}, "encoding": {"x": {"field": "q", "type": "quantitative"}, "y": {"field": "b", "type": "quantitative"}}}
 ]}
], "spacing": 0, "bounds": "flush"}
]
}
